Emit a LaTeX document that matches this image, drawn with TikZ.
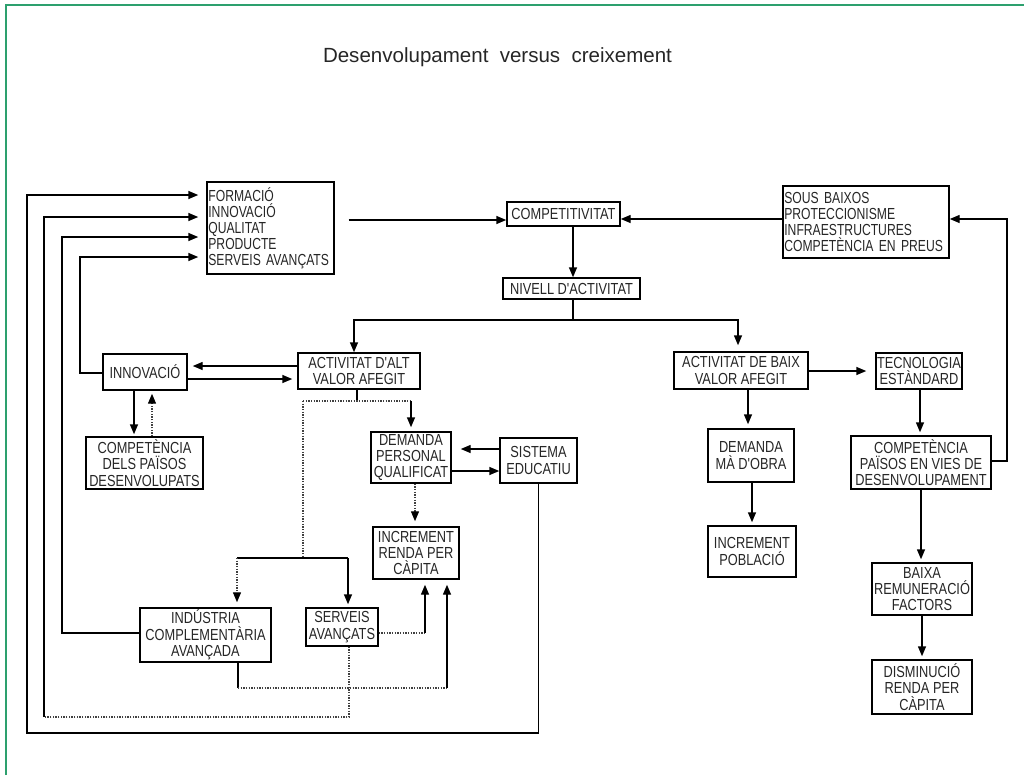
\documentclass[tikz,border=0pt]{standalone}
\usepackage{fontspec}
\setmainfont{Liberation Sans}
\newfontfamily\cond[FakeStretch=0.8]{Liberation Sans}
\newfontfamily\condl[FakeStretch=0.76]{Liberation Sans}
\usetikzlibrary{arrows.meta}
\definecolor{frameg}{RGB}{45,160,110}
\begin{document}
\begin{tikzpicture}[x=0.75pt,y=-0.75pt,
  box/.style={draw=black, line width=1.1pt, inner sep=0pt, align=center,
    font=\cond\fontsize{12}{12.2}\selectfont, text=black!85},
  lbox/.style={box, align=left, inner xsep=1pt, font=\condl\fontsize{12}{12}\selectfont},
  wh/.style 2 args={minimum width=#1*0.75pt, minimum height=#2*0.75pt},
  ln/.style={line width=1.1pt, black},
  arr/.style={ln, -{Triangle[length=7.5pt,width=6pt]}, shorten >=#1},
  arr/.default=0pt,
  dl/.style={line width=1pt, densely dotted, black!75},
  darr/.style={dl, -{Triangle[length=7.5pt,width=6pt,black]}, shorten >=#1},
  darr/.default=0pt
]
\useasboundingbox (0,0) rectangle (1024,775);
\draw[frameg, line width=1.5pt] (5.5,775) -- (5.5,4.5) -- (1024,4.5);

\node[anchor=base, font=\fontsize{15.4}{18}\selectfont, text=black!85] (title) at (497.5,62)
  {Desenvolupament\hspace{0.55em}versus\hspace{0.55em}creixement};

% nodes
\node[lbox, wh={127}{92}, text width=93.2pt] (form) at (270.5,228)
  {FORMACIÓ\\INNOVACIÓ\\QUALITAT\\PRODUCTE\\SERVEIS AVANÇATS};
\node[box, wh={113}{24}] (comp) at (563.5,214) {COMPETITIVITAT};
\node[lbox, wh={166}{72}, text width=122.5pt] (sous) at (866,222)
  {SOUS BAIXOS\\PROTECCIONISME\\INFRAESTRUCTURES\\COMPETÈNCIA EN PREUS};
\node[box, wh={137}{21}] (niv) at (571.5,288.5) {NIVELL D'ACTIVITAT};
\node[box, wh={122}{36}] (alt) at (359,371) {ACTIVITAT D'ALT\\VALOR AFEGIT};
\node[box, wh={84}{36}] (inn) at (145,372) {INNOVACIÓ};
\node[box, wh={117}{52}] (cdp) at (144.5,463) {COMPETÈNCIA\\DELS PAÏSOS\\DESENVOLUPATS};
\node[box, wh={80}{51}] (dpq) at (411,457.5) {DEMANDA\\PERSONAL\\QUALIFICAT};
\node[box, wh={77}{45}] (sis) at (538.5,460.5) {SISTEMA\\EDUCATIU};
\node[box, wh={86}{52}] (irpc) at (416,553) {INCREMENT\\RENDA PER\\CÀPITA};
\node[box, wh={131}{54}] (ind) at (205.5,635) {INDÚSTRIA\\COMPLEMENTÀRIA\\AVANÇADA};
\node[box, wh={72}{38}] (serv) at (342,627) {SERVEIS\\AVANÇATS};
\node[box, wh={134}{37}] (baix) at (741,370.5) {ACTIVITAT DE BAIX\\VALOR AFEGIT};
\node[box, wh={86}{36}] (tec) at (919,371) {TECNOLOGIA\\ESTÀNDARD};
\node[box, wh={140}{53}] (cpvd) at (921,462.5) {COMPETÈNCIA\\PAÏSOS EN VIES DE\\DESENVOLUPAMENT};
\node[box, wh={86}{53}] (dmo) at (751,455.5) {DEMANDA\\MÀ D'OBRA};
\node[box, wh={88}{51}] (ipob) at (752,551.5) {INCREMENT\\POBLACIÓ};
\node[box, wh={100}{52}] (bai) at (922,589) {BAIXA\\REMUNERACIÓ\\FACTORS};
\node[box, wh={100}{54}] (dis) at (922,687) {DISMINUCIÓ\\RENDA PER\\CÀPITA};

% top row
\draw[arr, shorten <=10.5pt] (form.east |- 0,220) -- (comp.west |- 0,220);
\draw[arr] (sous.west |- 0,219) -- (comp.east |- 0,219);
\draw[arr] (comp.south -| 573,0) -- (niv.north -| 573,0);
\coordinate (nb) at (573,320);
\draw[ln] (niv.south -| nb) -- (nb);
\draw[arr] (nb) -| (alt.north -| 354,0);
\draw[arr=4.5pt] (nb) -| (baix.north -| 738,0);

% innovation
\draw[arr=3.75pt] (alt.west |- 0,366) -- (inn.east |- 0,366);
\draw[arr=3.75pt] (inn.east |- 0,379) -- (alt.west |- 0,379);
\draw[arr=1.5pt] (inn.south -| 134,0) -- (cdp.north -| 134,0);
\draw[darr=2.25pt] (cdp.north -| 152,0) -- (inn.south -| 152,0);

% alt -> demanda
\coordinate (a1) at (357,401);
\draw[ln] (alt.south -| a1) -- (a1);
\draw[dl] (303,401) -- (411,401);
\draw[arr=3pt] (411,401) -- (dpq.north);
\draw[dl] (303,401) -- (303,558);
\draw[ln] (237,558) -- (348,558);
\draw[darr=3.75pt] (237,558) -- (ind.north -| 237,0);
\draw[arr=2.25pt] (348,558) -- (serv.north -| 348,0);

% demanda <-> sistema
\draw[arr=6.75pt] (sis.west |- 0,449) -- (dpq.east |- 0,449);
\draw[arr] (dpq.east |- 0,471) -- (sis.west |- 0,471);
\draw[darr=3.75pt] (dpq.south -| 415,0) -- (irpc.north -| 415,0);

% into increment renda
\draw[dl] (serv.east |- 0,633) -- (425,633);
\draw[arr=3.75pt] (425,633) -- (irpc.south -| 425,0);
\draw[ln] (ind.south -| 238,0) -- (238,688);
\draw[dl] (238,688) -- (447,688);
\draw[arr=3.75pt] (447,688) -- (irpc.south -| 447,0);

% feedback loops to form
\draw[dl] (serv.south -| 349,0) -- (349,717) -- (44,717);
\draw[arr=6pt] (44,717) -- (44,217) -- (form.west |- 0,217);
\draw[arr=6pt] (ind.west |- 0,633) -- (62,633) -- (62,237) -- (form.west |- 0,237);
\draw[arr=6pt] (inn.west |- 0,373) -- (80,373) -- (80,257) -- (form.west |- 0,257);
\draw[arr=6pt] (sis.south) -- (538.5,733) -- (27,733) -- (27,195) -- (form.west |- 0,195);

% right side
\draw[arr=6.75pt] (baix.east |- 0,371) -- (tec.west |- 0,371);
\draw[arr=2.25pt] (tec.south -| 920,0) -- (cpvd.north -| 920,0);
\draw[arr=3pt] (baix.south -| 748,0) -- (dmo.north -| 748,0);
\draw[arr=2.25pt] (dmo.south -| 752,0) -- (ipob.north -| 752,0);
\draw[arr=2.25pt] (cpvd.south -| 921,0) -- (bai.north -| 921,0);
\draw[arr=2.25pt] (bai.south -| 922,0) -- (dis.north -| 922,0);
\draw[arr] (cpvd.east |- 0,461) -- (1007,461) -- (1007,219) -- (sous.east |- 0,219);
\end{tikzpicture}
\end{document}
